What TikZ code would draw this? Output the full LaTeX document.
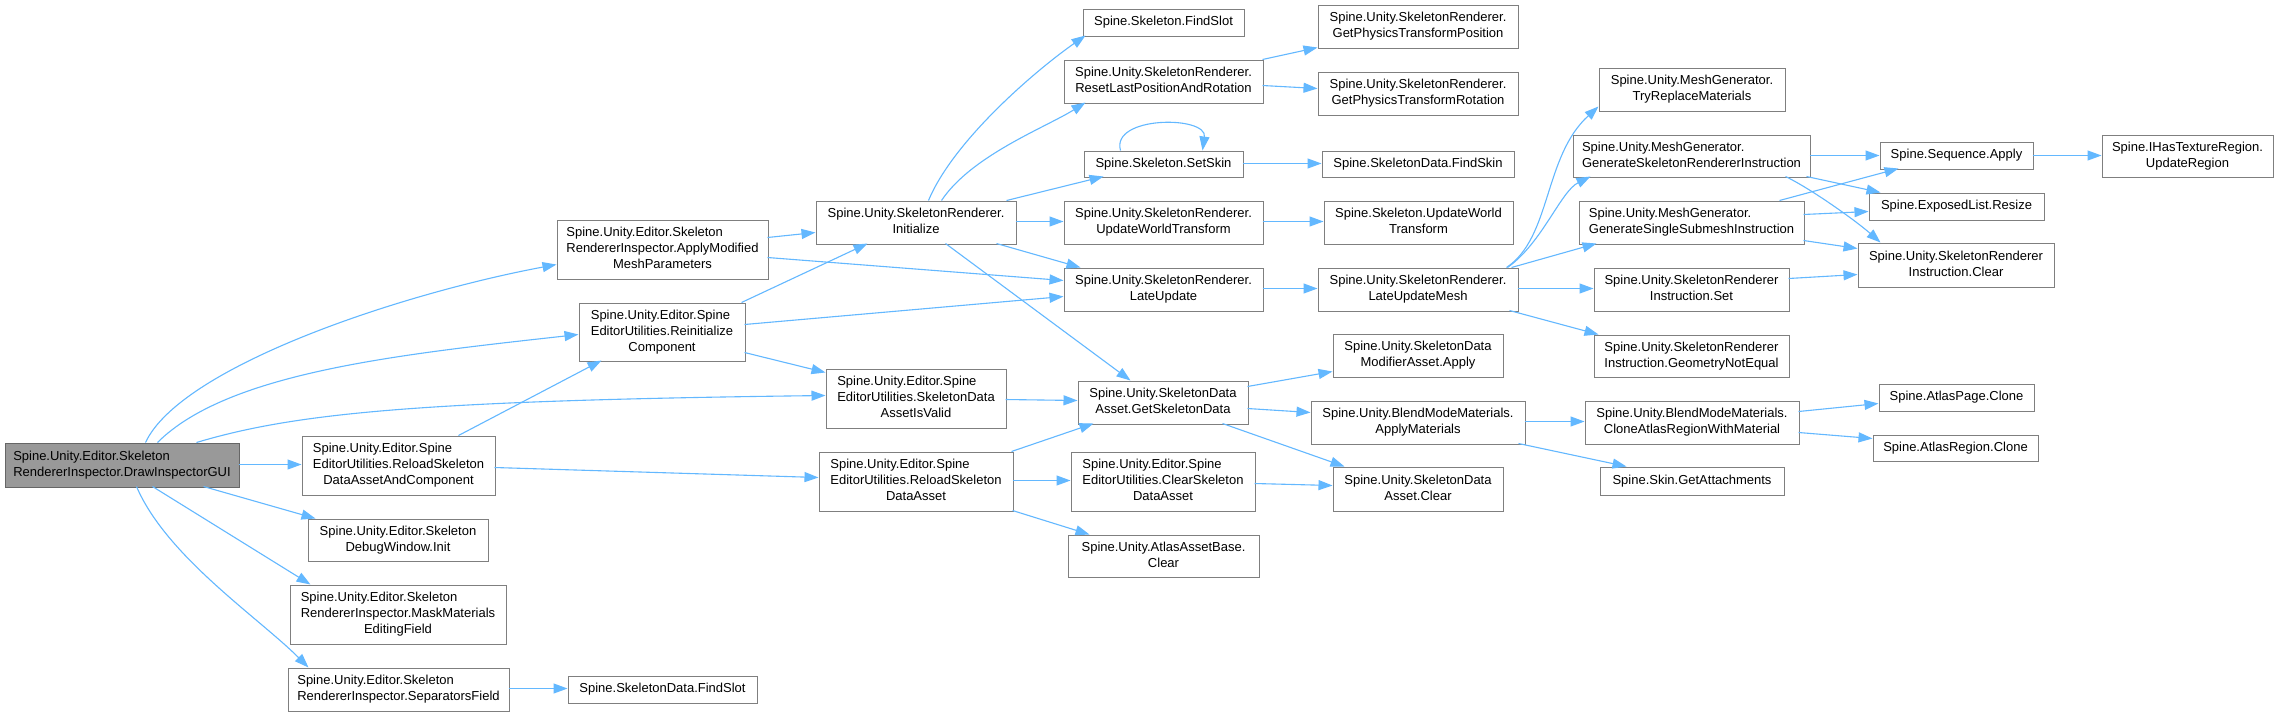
\documentclass[tikz,border=0pt]{standalone}
\usepackage{fontspec}
\setmainfont{Liberation Sans}
\usetikzlibrary{arrows.meta}
\definecolor{edgecol}{HTML}{63B8FF}
\definecolor{bordercol}{HTML}{7F7F7F}
\definecolor{rootfill}{HTML}{999999}
\definecolor{rootborder}{HTML}{666666}
\newcommand\tlines[1]{\begin{tabular}{@{}l@{}}#1\end{tabular}}
\newcommand\lastc[1]{\multicolumn{1}{@{}c@{}}{#1}}
\newcommand\bx[7][box]{\node[#1,minimum width={(#5-#3)*1pt},minimum height={(#6-#4)*1pt}] (#2) at ({(#3+#5)/2},{(#4+#6)/2}) {#7};}
\tikzset{
  box/.style={rectangle,draw=bordercol,fill=white,line width=1pt,inner sep=0pt,font=\fontsize{13}{16}\selectfont},
  rootbox/.style={box,draw=rootborder,fill=rootfill},
  e/.style={draw=edgecol,line width=1.1pt,-{Triangle[length=14pt,width=10pt]}}
}
\begin{document}
\begin{tikzpicture}[x=1pt,y=-1pt]
\useasboundingbox[fill=white] (0,0) rectangle (2279,716);
% nodes
\bx[rootbox]{root}{5}{443}{239}{487}{\tlines{Spine.Unity.Editor.Skeleton\\RendererInspector.DrawInspectorGUI}}
\bx{ammp}{557}{220}{768}{279}{\tlines{Spine.Unity.Editor.Skeleton\\RendererInspector.ApplyModified\\\lastc{MeshParameters}}}
\bx{reinit}{579}{303}{745}{361}{\tlines{Spine.Unity.Editor.Spine\\EditorUtilities.Reinitialize\\\lastc{Component}}}
\bx{rsdac}{302}{436}{495}{495}{\tlines{Spine.Unity.Editor.Spine\\EditorUtilities.ReloadSkeleton\\\lastc{DataAssetAndComponent}}}
\bx{dbg}{308}{519}{488}{561}{\tlines{Spine.Unity.Editor.Skeleton\\\lastc{DebugWindow.Init}}}
\bx{mask}{290}{585}{506}{644}{\tlines{Spine.Unity.Editor.Skeleton\\RendererInspector.MaskMaterials\\\lastc{EditingField}}}
\bx{sep}{288}{668}{509}{711}{\tlines{Spine.Unity.Editor.Skeleton\\RendererInspector.SeparatorsField}}
\bx{sdfslot}{568}{676}{757}{703}{Spine.SkeletonData.FindSlot}
\bx{sfslot}{1083}{9}{1244}{36}{Spine.Skeleton.FindSlot}
\bx{reset}{1064}{60}{1263}{103}{\tlines{Spine.Unity.SkeletonRenderer.\\\lastc{ResetLastPositionAndRotation}}}
\bx{gpos}{1318}{5}{1518}{48}{\tlines{Spine.Unity.SkeletonRenderer.\\\lastc{GetPhysicsTransformPosition}}}
\bx{grot}{1318}{72}{1518}{115}{\tlines{Spine.Unity.SkeletonRenderer.\\\lastc{GetPhysicsTransformRotation}}}
\bx{setskin}{1084}{151}{1243}{177}{Spine.Skeleton.SetSkin}
\bx{findskin}{1322}{151}{1514}{177}{Spine.SkeletonData.FindSkin}
\bx{init}{816}{201}{1016}{244}{\tlines{Spine.Unity.SkeletonRenderer.\\\lastc{Initialize}}}
\bx{uwt}{1064}{201}{1263}{244}{\tlines{Spine.Unity.SkeletonRenderer.\\\lastc{UpdateWorldTransform}}}
\bx{suwt}{1324}{201}{1513}{244}{\tlines{Spine.Skeleton.UpdateWorld\\\lastc{Transform}}}
\bx{late}{1064}{268}{1263}{311}{\tlines{Spine.Unity.SkeletonRenderer.\\\lastc{LateUpdate}}}
\bx{lum}{1318}{268}{1518}{311}{\tlines{Spine.Unity.SkeletonRenderer.\\\lastc{LateUpdateMesh}}}
\bx{modapply}{1333}{334}{1503}{377}{\tlines{Spine.Unity.SkeletonData\\\lastc{ModifierAsset.Apply}}}
\bx{valid}{826}{369}{1006}{428}{\tlines{Spine.Unity.Editor.Spine\\EditorUtilities.SkeletonData\\\lastc{AssetIsValid}}}
\bx{gsd}{1078}{381}{1248}{424}{\tlines{Spine.Unity.SkeletonData\\\lastc{Asset.GetSkeletonData}}}
\bx{applymat}{1311}{401}{1525}{444}{\tlines{Spine.Unity.BlendModeMaterials.\\\lastc{ApplyMaterials}}}
\bx{rsda}{819}{452}{1013}{511}{\tlines{Spine.Unity.Editor.Spine\\EditorUtilities.ReloadSkeleton\\\lastc{DataAsset}}}
\bx{clearsda}{1071}{452}{1255}{511}{\tlines{Spine.Unity.Editor.Spine\\EditorUtilities.ClearSkeleton\\\lastc{DataAsset}}}
\bx{sdaclear}{1333}{467}{1503}{511}{\tlines{Spine.Unity.SkeletonData\\\lastc{Asset.Clear}}}
\bx{atlasclear}{1068}{535}{1259}{577}{\tlines{Spine.Unity.AtlasAssetBase.\\\lastc{Clear}}}
\bx{tryrep}{1599}{68}{1785}{111}{\tlines{Spine.Unity.MeshGenerator.\\\lastc{TryReplaceMaterials}}}
\bx{gensri}{1573}{135}{1810}{177}{\tlines{Spine.Unity.MeshGenerator.\\GenerateSkeletonRendererInstruction}}
\bx{gensingle}{1579}{201}{1804}{244}{\tlines{Spine.Unity.MeshGenerator.\\GenerateSingleSubmeshInstruction}}
\bx{sriset}{1594}{268}{1789}{311}{\tlines{Spine.Unity.SkeletonRenderer\\\lastc{Instruction.Set}}}
\bx{geomne}{1594}{335}{1789}{377}{\tlines{Spine.Unity.SkeletonRenderer\\\lastc{Instruction.GeometryNotEqual}}}
\bx{seqapply}{1880}{142}{2033}{169}{Spine.Sequence.Apply}
\bx{updreg}{2102}{135}{2273}{177}{\tlines{Spine.IHasTextureRegion.\\\lastc{UpdateRegion}}}
\bx{resize}{1869}{193}{2044}{220}{Spine.ExposedList.Resize}
\bx{sriclear}{1858}{243}{2054}{287}{\tlines{Spine.Unity.SkeletonRenderer\\\lastc{Instruction.Clear}}}
\bx{clone}{1585}{401}{1799}{444}{\tlines{Spine.Unity.BlendModeMaterials.\\\lastc{CloneAtlasRegionWithMaterial}}}
\bx{getatt}{1600}{467}{1784}{495}{Spine.Skin.GetAttachments}
\bx{apclone}{1879}{384}{2034}{411}{Spine.AtlasPage.Clone}
\bx{arclone}{1873}{435}{2038}{461}{Spine.AtlasRegion.Clone}
% edges from root
\draw[e] ([shift={(141,0)}]root.north west) .. controls +(35,-75) and +(-160,30) .. ([shift={(0,45)}]ammp.north west);
\draw[e] ([shift={(153,0)}]root.north west) .. controls +(70,-70) and +(-180,20) .. ([shift={(0,32)}]reinit.north west);
\draw[e] ([shift={(192,0)}]root.north west) .. controls +(100,-30) and +(-400,5) .. ([shift={(0,27)}]valid.north west);
\draw[e] ([shift={(234,22)}]root.north west) -- ([shift={(0,29)}]rsdac.north west);
\draw[e] ([shift={(199,44)}]root.north west) -- ([shift={(8,0)}]dbg.north west);
\draw[e] ([shift={(148,44)}]root.north west) -- ([shift={(21,0)}]mask.north west);
\draw[e] ([shift={(132,44)}]root.north west) .. controls +(30,70) and +(-50,-50) .. ([shift={(21,0)}]sep.north west);
\draw[e] ([shift={(221,21)}]sep.north west) -- ([shift={(0,13)}]sdfslot.north west);
% second column
\draw[e] ([shift={(157,0)}]rsdac.north west) -- ([shift={(23,58)}]reinit.north west);
\draw[e] ([shift={(193,32)}]rsdac.north west) -- ([shift={(0,26)}]rsda.north west);
\draw[e] ([shift={(211,18)}]ammp.north west) -- ([shift={(0,32)}]init.north west);
\draw[e] ([shift={(211,38)}]ammp.north west) -- ([shift={(0,13)}]late.north west);
\draw[e] ([shift={(163,0)}]reinit.north west) -- ([shift={(52,43)}]init.north west);
\draw[e] ([shift={(166,22)}]reinit.north west) -- ([shift={(0,29)}]late.north west);
\draw[e] ([shift={(166,50)}]reinit.north west) -- ([shift={(0,4)}]valid.north west);
% from Initialize
\draw[e] ([shift={(113,0)}]init.north west) .. controls +(25,-60) and +(-50,35) .. ([shift={(3,27)}]sfslot.north west);
\draw[e] ([shift={(126,0)}]init.north west) .. controls +(30,-45) and +(-40,25) .. ([shift={(22,43)}]reset.north west);
\draw[e] ([shift={(191,0)}]init.north west) -- ([shift={(20,26)}]setskin.north west);
\draw[e] ([shift={(200,21)}]init.north west) -- ([shift={(0,21)}]uwt.north west);
\draw[e] ([shift={(181,43)}]init.north west) -- ([shift={(17,0)}]late.north west);
\draw[e] ([shift={(130,43)}]init.north west) -- ([shift={(53,0)}]gsd.north west);
% third column
\draw[e] ([shift={(199,0)}]reset.north west) -- ([shift={(0,43)}]gpos.north west);
\draw[e] ([shift={(199,26)}]reset.north west) -- ([shift={(0,17)}]grot.north west);
\draw[e] ([shift={(37,0)}]setskin.north west) .. controls +(-10,-35) and +(5,-35) .. ([shift={(119,0)}]setskin.north west);
\draw[e] ([shift={(159,13)}]setskin.north west) -- ([shift={(0,13)}]findskin.north west);
\draw[e] ([shift={(199,21)}]uwt.north west) -- ([shift={(0,21)}]suwt.north west);
\draw[e] ([shift={(199,21)}]late.north west) -- ([shift={(0,21)}]lum.north west);
% from LateUpdateMesh
\draw[e] ([shift={(189,0)}]lum.north west) .. controls +(45,-30) and +(-55,50) .. ([shift={(0,39)}]tryrep.north west);
\draw[e] ([shift={(190,0)}]lum.north west) .. controls +(35,-25) and +(-30,15) .. ([shift={(18,42)}]gensri.north west);
\draw[e] ([shift={(194,0)}]lum.north west) -- ([shift={(18,43)}]gensingle.north west);
\draw[e] ([shift={(200,21)}]lum.north west) -- ([shift={(0,21)}]sriset.north west);
\draw[e] ([shift={(192,43)}]lum.north west) -- ([shift={(5,0)}]geomne.north west);
% mesh generator
\draw[e] ([shift={(237,21)}]gensri.north west) -- ([shift={(0,14)}]seqapply.north west);
\draw[e] ([shift={(234,42)}]gensri.north west) -- ([shift={(12,0)}]resize.north west);
\draw[e] ([shift={(213,42)}]gensri.north west) .. controls +(25,12) and +(-25,-22) .. ([shift={(23,0)}]sriclear.north west);
\draw[e] ([shift={(201,0)}]gensingle.north west) -- ([shift={(19,27)}]seqapply.north west);
\draw[e] ([shift={(225,14)}]gensingle.north west) -- ([shift={(0,19)}]resize.north west);
\draw[e] ([shift={(225,40)}]gensingle.north west) -- ([shift={(0,6)}]sriclear.north west);
\draw[e] ([shift={(195,11)}]sriset.north west) -- ([shift={(0,32)}]sriclear.north west);
\draw[e] ([shift={(153,14)}]seqapply.north west) -- ([shift={(0,21)}]updreg.north west);
% skeleton data
\draw[e] ([shift={(180,31)}]valid.north west) -- ([shift={(0,20)}]gsd.north west);
\draw[e] ([shift={(193,0)}]rsda.north west) -- ([shift={(16,43)}]gsd.north west);
\draw[e] ([shift={(194,29)}]rsda.north west) -- ([shift={(0,29)}]clearsda.north west);
\draw[e] ([shift={(194,59)}]rsda.north west) -- ([shift={(22,0)}]atlasclear.north west);
\draw[e] ([shift={(170,6)}]gsd.north west) -- ([shift={(0,38)}]modapply.north west);
\draw[e] ([shift={(170,28)}]gsd.north west) -- ([shift={(0,12)}]applymat.north west);
\draw[e] ([shift={(145,43)}]gsd.north west) -- ([shift={(12,0)}]sdaclear.north west);
\draw[e] ([shift={(184,32)}]clearsda.north west) -- ([shift={(0,19)}]sdaclear.north west);
\draw[e] ([shift={(214,21)}]applymat.north west) -- ([shift={(0,21)}]clone.north west);
\draw[e] ([shift={(208,43)}]applymat.north west) -- ([shift={(27,0)}]getatt.north west);
\draw[e] ([shift={(214,11)}]clone.north west) -- ([shift={(0,20)}]apclone.north west);
\draw[e] ([shift={(214,32)}]clone.north west) -- ([shift={(0,4)}]arclone.north west);
\end{tikzpicture}
\end{document}
